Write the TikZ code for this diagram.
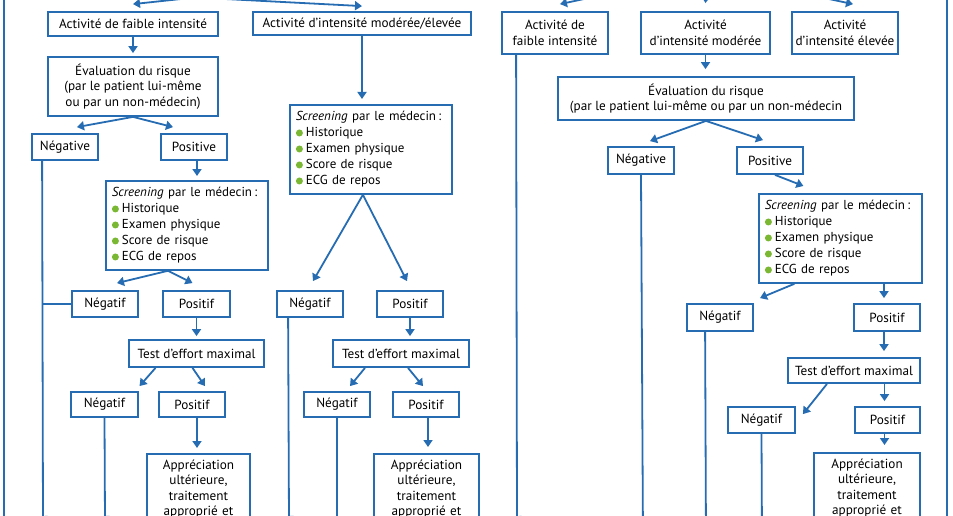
\documentclass[tikz,border=0pt]{standalone}
\usepackage{fontspec}
\setmainfont{PT Sans}
\usetikzlibrary{arrows.meta}
\definecolor{flowblue}{RGB}{38,108,178}
\definecolor{dotgreen}{RGB}{122,184,52}
\newcommand\gbul{\tikz[baseline=-3.8pt]\fill[dotgreen] (0pt,0pt) circle (3.5pt);\hspace{3pt}}
\newcommand\scrtext{\textit{Screening} par le médecin\,:\\\gbul Historique\\\gbul Examen physique\\\gbul Score de risque\\\gbul ECG de repos}
\newcommand\apptext{Appréciation\\ultérieure,\\traitement\\approprié et}

\begin{document}
\begin{tikzpicture}[x=1pt,y=-1pt,
  box/.style 2 args={draw=flowblue,line width=1.8pt,inner sep=0pt,align=center,
    minimum width=#1pt,minimum height=#2pt,font=\fontsize{13.2}{15.5}\selectfont},
  scrbox/.style={draw=flowblue,line width=1.8pt,anchor=north west,align=left,
    inner xsep=6pt,inner ysep=4pt,minimum height=89pt,text width=#1pt,
    font=\fontsize{13}{16}\selectfont},
  appbox/.style={draw=flowblue,line width=1.8pt,anchor=north,align=center,
    inner xsep=0pt,inner ysep=6pt,text width=#1pt,font=\fontsize{13.2}{15.5}\selectfont},
  arr/.style={draw=flowblue,line width=1.8pt,-{Triangle[length=7pt,width=9pt]}},
  ln/.style={draw=flowblue,line width=1.8pt}]
\useasboundingbox (0,0) rectangle (953,516);
\clip (0,0) rectangle (953,516);

%frame
\draw[ln] (4,-5) -- (4,530);
\draw[ln] (947,-5) -- (947,530);

%left column, low intensity
\node[box={170}{24}] (fai1) at (133,24) {Activité de faible intensité};
\node[box={170}{59}] (eva1) at (133,86.5) {Évaluation du risque\\(par le patient lui-même\\ou par un non-médecin)};
\node[box={66}{26}] (neg1) at (65,147) {Négative};
\node[box={66}{26}] (pos1) at (194,147) {Positive};
\node[scrbox=150] (scr1) at (105,180) {\scrtext};
\node[box={66}{26}] (ng2) at (105,304) {Négatif};
\node[box={67}{26}] (ps2) at (196.5,304) {Positif};
\node[box={135}{27}] (tst1) at (196.5,353.5) {Test d’effort maximal};
\node[box={67}{25}] (ng3) at (104.5,404.5) {Négatif};
\node[box={66}{25}] (ps3) at (192,404.5) {Positif};
\node[appbox=103] (app1) at (198.5,453) {\apptext};

%left column, moderate/high intensity
\node[box={218}{23}] (mod1) at (362,23.5) {Activité d’intensité modérée/élevée};
\node[scrbox=150] (scr2) at (289,104) {\scrtext};
\node[box={66}{26}] (ng4) at (310,304) {Négatif};
\node[box={66}{26}] (ps4) at (410,304) {Positif};
\node[box={136}{27}] (tst2) at (401,353.5) {Test d’effort maximal};
\node[box={66}{25}] (ng5) at (337,404.5) {Négatif};
\node[box={66}{25}] (ps5) at (426,404.5) {Positif};
\node[appbox=105] (app2) at (426.5,453) {\apptext};

%right half
\node[box={106}{42}] (fai2) at (555,33) {Activité de\\faible intensité};
\node[box={129}{42}] (mod2) at (705.5,33) {Activité\\d’intensité modérée};
\node[box={106}{42}] (ele2) at (845,33) {Activité\\d’intensité élevée};
\node[box={296}{43}] (eva2) at (706,98.5) {Évaluation du risque\\(par le patient lui-même ou par un non-médecin};
\node[box={66}{27}] (neg2) at (641,160.5) {Négative};
\node[box={66}{27}] (pos2) at (770,160.5) {Positive};
\node[scrbox=151] (scr3) at (758,193) {\scrtext};
\node[box={66}{27}] (ng6) at (720,317.5) {Négatif};
\node[box={66}{27}] (ps6) at (887,317.5) {Positif};
\node[box={132}{25}] (tst3) at (854,370.5) {Test d’effort maximal};
\node[box={67}{26}] (ng7) at (761.5,420) {Négatif};
\node[box={65}{26}] (ps7) at (887.5,420) {Positif};
\node[appbox=106] (app3) at (867,452) {\apptext};

%arrows coming in from above
\coordinate (inL1) at (181,-1);
\coordinate (inL2) at (225,-1);
\coordinate (inR1) at (584,-1);
\coordinate (inR2) at (706,-6);
\coordinate (inR3) at (829,-1);
\draw[arr] (inL1) -- ([yshift=7pt]fai1.north);
\draw[arr] (inL2) -- ([yshift=5pt]mod1.north);
\draw[arr] (inR1) -- ([xshift=5pt,yshift=7pt]fai2.north);
\draw[arr] (inR2) -- ([yshift=8pt]mod2.north);
\draw[arr] (inR3) -- ([xshift=8pt,yshift=7pt]ele2.north);

%arrows, first column
\draw[arr,shorten >=3pt] (fai1) -- (eva1);
\draw[arr] (eva1.south) -- ([xshift=12pt,yshift=6pt]neg1.north);
\draw[arr] (eva1.south) -- ([xshift=-21pt,yshift=6pt]pos1.north);
\draw[arr,shorten >=4pt] ([xshift=3pt]pos1.south) -- ([xshift=3pt]pos1.south |- scr1.north);
\draw[arr] ([xshift=-19pt]scr1.south) -- ([xshift=12pt,yshift=7pt]ng2.north);
\draw[arr] ([xshift=-19pt]scr1.south) -- ([xshift=-4pt,yshift=7pt]ps2.north);
\draw[arr,shorten >=3pt] (ps2.south) -- (ps2.south |- tst1.north);
\draw[arr] ([xshift=-41pt]tst1.south) -- ([xshift=35pt,yshift=5pt]ng3.north);
\draw[arr] ([xshift=-4pt]tst1.south) -- ([xshift=13pt,yshift=5pt]ps3.north);
\draw[arr,shorten >=5pt] ([xshift=5pt]ps3.south) -- ([xshift=5pt]ps3.south |- app1.north);

%arrows, second column
\draw[arr,shorten >=5pt] (mod1.south) -- (mod1.south |- scr2.north);
\draw[arr] ([xshift=-8pt]scr2.south) -- ([xshift=3pt,yshift=9pt]ng4.north);
\draw[arr] ([xshift=-8pt]scr2.south) -- ([xshift=-3pt,yshift=9pt]ps4.north);
\draw[arr,shorten >=3pt] (ps4.south) -- (ps4.south |- tst2.north);
\draw[arr] ([xshift=-36pt]tst2.south) -- ([xshift=13pt,yshift=5pt]ng5.north);
\draw[arr] ([xshift=7pt]tst2.south) -- ([xshift=-3pt,yshift=5pt]ps5.north);
\draw[arr,shorten >=6pt] ([xshift=2pt]ps5.south) -- ([xshift=2pt]ps5.south |- app2.north);

%arrows, right half
\draw[arr,shorten >=7pt] (mod2.south) -- (mod2.south |- eva2.north);
\draw[arr] (eva2.south) -- ([xshift=9pt,yshift=5pt]neg2.north);
\draw[arr] (eva2.south) -- ([xshift=-7pt,yshift=6pt]pos2.north);
\draw[arr] ([xshift=5pt]pos2.south) -- ([xshift=-37pt,yshift=7pt]scr3.north);
\draw[arr] ([xshift=-46pt]scr3.south) -- ([xshift=40pt,yshift=5pt]ng6.north);
\draw[arr,shorten >=5pt] ([xshift=-3pt]ps6.north |- scr3.south) -- ([xshift=-3pt]ps6.north);
\draw[arr,shorten >=6pt] ([xshift=-3pt]ps6.south) -- ([xshift=-3pt]ps6.south |- tst3.north);
\draw[arr] ([xshift=-27pt]tst3.south) -- ([xshift=7pt,yshift=-8pt]ng7.north east);
\draw[arr,shorten >=5pt] ([xshift=-3pt]ps7.north |- tst3.south) -- ([xshift=-3pt]ps7.north);
\draw[arr,shorten >=7pt] ([xshift=-3pt]ps7.south) -- ([xshift=-3pt]ps7.south |- app3.north);

%lines running off the bottom
\coordinate (endA) at (43,523);
\coordinate (endB) at (105,523);
\coordinate (endC) at (289,523);
\coordinate (endD) at (337,523);
\coordinate (endE) at (517,523);
\coordinate (endF) at (643,540);
\coordinate (endG) at (706,540);
\coordinate (endH) at (762,540);
\draw[arr] ([xshift=11pt]neg1.south west) -- (endA);
\draw[ln] (ng2.west) -- (ng2.west -| endA);
\draw[arr] (ng3.south) -- (endB);
\draw[arr] ([xshift=12pt]ng4.south west) -- (endC);
\draw[arr] (ng5.south) -- (endD);
\draw[arr] ([xshift=15pt]fai2.south west) -- (endE);
\draw[arr] (neg2.south) -- (endF);
\draw[arr] ([xshift=19pt]ng6.south west) -- (endG);
\draw[arr] (ng7.south) -- (endH);
\end{tikzpicture}
\end{document}
